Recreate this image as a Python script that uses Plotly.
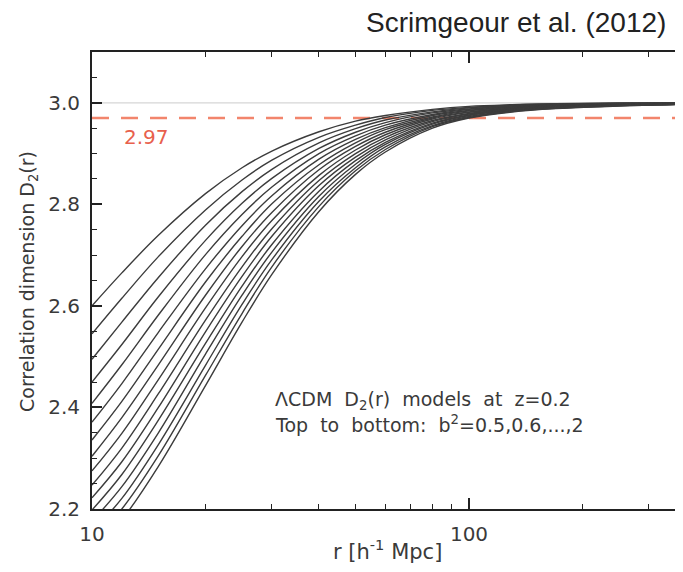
import plotly.graph_objects as go

# r grid [h^-1 Mpc]
r_values = [10, 12, 15, 20, 25, 30, 40, 50, 60, 80, 100, 130, 170, 250, 370]

# D2(r) curves, top to bottom: b^2 = 0.5, 0.6, ..., 2.0
d2_b050 = [2.600, 2.665, 2.739, 2.821, 2.872, 2.905, 2.943, 2.964, 2.975, 2.987, 2.993, 2.9963, 2.9983, 2.9995, 2.9999]
d2_b060 = [2.545, 2.615, 2.697, 2.789, 2.848, 2.887, 2.932, 2.956, 2.971, 2.985, 2.991, 2.9954, 2.9976, 2.9991, 2.9997]
d2_b070 = [2.495, 2.568, 2.656, 2.759, 2.825, 2.869, 2.921, 2.949, 2.966, 2.982, 2.990, 2.9944, 2.9970, 2.9987, 2.9995]
d2_b080 = [2.450, 2.524, 2.618, 2.729, 2.802, 2.851, 2.910, 2.942, 2.961, 2.980, 2.988, 2.9934, 2.9963, 2.9983, 2.9993]
d2_b090 = [2.408, 2.484, 2.582, 2.701, 2.780, 2.834, 2.900, 2.935, 2.956, 2.977, 2.987, 2.9925, 2.9957, 2.9980, 2.9990]
d2_b100 = [2.371, 2.447, 2.548, 2.673, 2.758, 2.817, 2.889, 2.928, 2.951, 2.975, 2.985, 2.9915, 2.9950, 2.9976, 2.9988]
d2_b110 = [2.336, 2.412, 2.515, 2.647, 2.737, 2.801, 2.878, 2.921, 2.947, 2.972, 2.984, 2.9905, 2.9943, 2.9972, 2.9986]
d2_b120 = [2.304, 2.380, 2.484, 2.621, 2.717, 2.784, 2.868, 2.914, 2.942, 2.970, 2.982, 2.9896, 2.9937, 2.9968, 2.9984]
d2_b130 = [2.275, 2.349, 2.455, 2.596, 2.697, 2.768, 2.857, 2.907, 2.937, 2.968, 2.981, 2.9886, 2.9930, 2.9964, 2.9982]
d2_b140 = [2.247, 2.320, 2.427, 2.572, 2.677, 2.752, 2.847, 2.900, 2.932, 2.965, 2.979, 2.9876, 2.9924, 2.9960, 2.9980]
d2_b150 = [2.222, 2.293, 2.400, 2.549, 2.658, 2.737, 2.837, 2.893, 2.927, 2.963, 2.978, 2.9867, 2.9917, 2.9957, 2.9978]
d2_b160 = [2.198, 2.268, 2.375, 2.526, 2.639, 2.721, 2.826, 2.886, 2.922, 2.960, 2.976, 2.9857, 2.9910, 2.9953, 2.9976]
d2_b170 = [2.176, 2.244, 2.350, 2.505, 2.621, 2.706, 2.816, 2.879, 2.918, 2.958, 2.975, 2.9847, 2.9904, 2.9949, 2.9973]
d2_b180 = [2.155, 2.221, 2.327, 2.483, 2.603, 2.691, 2.806, 2.872, 2.913, 2.955, 2.973, 2.9837, 2.9897, 2.9945, 2.9971]
d2_b190 = [2.136, 2.200, 2.305, 2.463, 2.585, 2.677, 2.796, 2.866, 2.908, 2.953, 2.971, 2.9828, 2.9891, 2.9941, 2.9969]
d2_b200 = [2.118, 2.179, 2.284, 2.443, 2.568, 2.662, 2.786, 2.859, 2.903, 2.950, 2.970, 2.9818, 2.9884, 2.9938, 2.9967]

b2_labels = ["0.5", "0.6", "0.7", "0.8", "0.9", "1.0", "1.1", "1.2",
             "1.3", "1.4", "1.5", "1.6", "1.7", "1.8", "1.9", "2.0"]
curves = [d2_b050, d2_b060, d2_b070, d2_b080, d2_b090, d2_b100, d2_b110, d2_b120,
          d2_b130, d2_b140, d2_b150, d2_b160, d2_b170, d2_b180, d2_b190, d2_b200]

homogeneity_level = 2.97
homogeneity_label = "2.97"
full_dimension = 3.0

x_major_ticks = [10, 100]
x_major_labels = ["10", "100"]
x_minor_ticks = [20, 30, 40, 50, 60, 70, 80, 90, 200, 300]
y_major_ticks = [2.2, 2.4, 2.6, 2.8, 3.0]
y_major_labels = ["2.2", "2.4", "2.6", "2.8", "3.0"]

fig = go.Figure()

# light reference line at D2 = 3
fig.add_trace(go.Scatter(
    x=[r_values[0], r_values[-1]], y=[full_dimension, full_dimension],
    mode="lines", line=dict(color="#d6d6d6", width=1.2), hoverinfo="skip", showlegend=False))

# dashed homogeneity threshold
fig.add_trace(go.Scatter(
    x=[r_values[0], r_values[-1]], y=[homogeneity_level, homogeneity_level],
    mode="lines", line=dict(color="#f2856c", width=2.5, dash="17px,12px"),
    hoverinfo="skip", showlegend=False))

for lab, vals in zip(b2_labels, curves):
    fig.add_trace(go.Scatter(
        x=r_values, y=vals, mode="lines", name="b²=" + lab,
        line=dict(color="#3c3c3c", width=1.4, shape="spline", smoothing=1.0),
        showlegend=False))

tick_font = dict(family="DejaVu Sans", size=20, color="#3a3a3a")
text_font = "DejaVu Sans"

# the page has an 8px body margin, so the figure origin sits at (8, 8)
OFF = 8
W, H = 683 - OFF, 572 - OFF
# plot area in figure pixels
L, R, T, B = 92 - OFF, 683 - OFF, 52 - OFF, 509 - OFF


def px(xp):
    # xp: pixel in the photographed window
    return (xp - OFF - L) / (R - L)


def py(yp):
    return (B - (yp - OFF)) / (B - T)


fig.update_layout(
    width=W, height=H,
    margin=dict(l=L, r=W - R, t=T, b=H - B, autoexpand=False),
    paper_bgcolor="white", plot_bgcolor="white",
    font=dict(family=text_font, size=16, color="#333333"),
    showlegend=False,
)

fig.update_xaxes(
    type="log", range=[1, 2.5676], automargin=False,
    tickvals=x_major_ticks, ticktext=x_major_labels,
    ticks="inside", ticklen=11, tickwidth=1.5, tickcolor="#222",
    minor=dict(tickvals=x_minor_ticks, ticks="inside", ticklen=5, tickwidth=1.2, tickcolor="#222"),
    showline=True, linecolor="#222", linewidth=2, mirror="allticks",
    showgrid=False, zeroline=False,
    tickfont=tick_font, ticklabelstandoff=6,
)

fig.update_yaxes(
    range=[2.2, 3.1], automargin=False,
    tickvals=y_major_ticks, ticktext=y_major_labels,
    ticks="inside", ticklen=10, tickwidth=1.5, tickcolor="#222",
    minor=dict(dtick=0.05, ticks="inside", ticklen=5, tickwidth=1.2, tickcolor="#222"),
    showline=True, linecolor="#222", linewidth=2, mirror=False,
    showgrid=False, zeroline=False,
    tickfont=tick_font, ticklabelstandoff=6,
)

# axis titles
fig.add_annotation(
    text="Correlation dimension D<sub>2</sub>(r)", xref="paper", yref="paper",
    x=px(28), y=py(282), xanchor="center", yanchor="middle", textangle=-90,
    showarrow=False, font=dict(family=text_font, size=19, color="#3a3a3a"))
fig.add_annotation(
    text="r [h<sup>-1</sup> Mpc]", xref="paper", yref="paper",
    x=px(387), y=py(550), xanchor="center", yanchor="middle",
    showarrow=False, font=dict(family=text_font, size=21, color="#3a3a3a"))

# title
fig.add_annotation(
    text="Scrimgeour et al. (2012)", xref="paper", yref="paper",
    x=px(668), y=py(22), xanchor="right", yanchor="middle",
    showarrow=False, font=dict(family="Liberation Sans, Arial", size=28, color="#222"))

# threshold label
fig.add_annotation(
    text=homogeneity_label, xref="paper", yref="paper", x=px(122), y=py(137),
    xanchor="left", yanchor="middle", showarrow=False,
    font=dict(family=text_font, size=20, color="#e8604c"))

# model description
fig.add_annotation(
    text="ΛCDM  D<sub>2</sub>(r)  models  at  z=0.2", xref="paper", yref="paper",
    x=px(273), y=py(400), xanchor="left", yanchor="middle", showarrow=False,
    font=dict(family=text_font, size=19, color="#3a3a3a"))
fig.add_annotation(
    text="Top  to  bottom:  b<sup>2</sup>=0.5,0.6,...,2", xref="paper", yref="paper",
    x=px(273), y=py(424), xanchor="left", yanchor="middle", showarrow=False,
    font=dict(family=text_font, size=19, color="#3a3a3a"))

fig.write_html("out.html")
